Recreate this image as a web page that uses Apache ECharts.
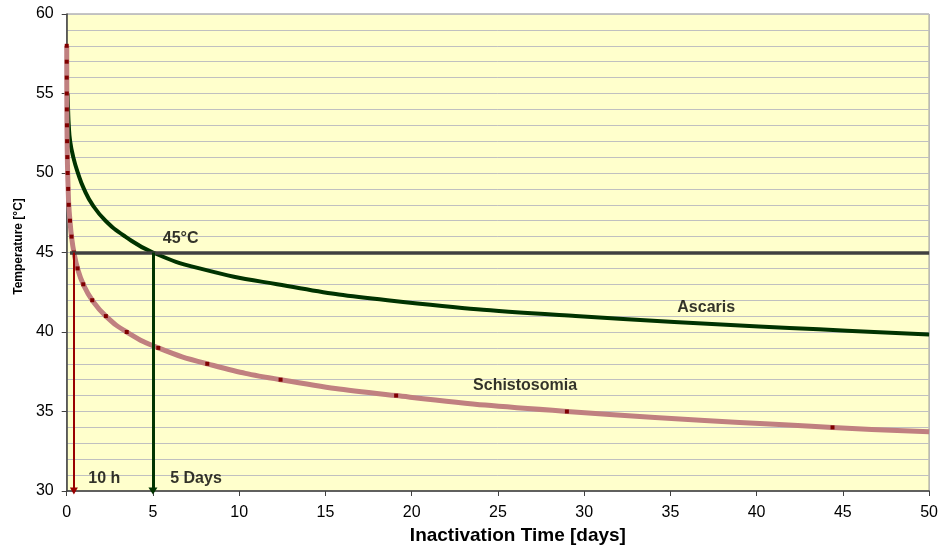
<!DOCTYPE html>
<html>
<head>
<meta charset="utf-8">
<script src="https://cdn.jsdelivr.net/npm/echarts@6/dist/echarts.min.js"></script>
<style>
  html, body { margin: 0; padding: 0; background: #ffffff; }
  #chart { width: 941px; height: 550px; }
</style>
</head>
<body>
<div id="chart"></div>
<script>
// Inactivation time (days) needed at each temperature (°C)
const schistoTemps = [58, 57, 56, 55, 54, 53, 52, 51, 50, 49, 48, 47, 46, 45, 44, 43, 42, 41, 40, 39, 38, 37, 36, 35, 34];
const schistoDays  = [0.002, 0.003, 0.004, 0.007, 0.01, 0.015, 0.024, 0.037, 0.056, 0.085, 0.12, 0.19, 0.28, 0.42, 0.63, 0.96, 1.48, 2.27, 3.48, 5.31, 8.15, 12.4, 19.1, 29.0, 44.4];
const schistoEnd   = [50, 33.72];

const ascarisTemps = [55, 54, 53, 52, 51, 50, 49, 48, 47, 46, 45, 44, 43, 42, 41, 40];
const ascarisDays  = [0.05, 0.08, 0.12, 0.2, 0.38, 0.65, 1.0, 1.5, 2.25, 3.4, 5.0, 7.7, 12.2, 18.6, 29.5, 46.8];
const ascarisEnd   = [50, 39.85];

const refTemp = 45;
const schistoTimeAtRef = 10 / 24;   // 10 hours
const ascarisTimeAtRef = 5;         // 5 days

// Axis ranges
const xMin = 0, xMax = 50, xStep = 5;
const yMin = 30, yMax = 60, yStep = 5;

// Annotation texts and their anchor points [days, °C]
const notes = [
  { text: '45°C',         at: [5.57, 45.85] },
  { text: '10 h',         at: [1.25, 30.78] },
  { text: '5 Days',       at: [6.0, 30.78] },
  { text: 'Ascaris',      at: [35.4, 41.51] },
  { text: 'Schistosomia', at: [23.56, 36.66] }
];

const FONT = "'Liberation Sans', Arial, Helvetica, sans-serif";

const schistoLine = schistoTemps.map((t, i) => ({ value: [schistoDays[i], t] }));
schistoLine.push({ value: schistoEnd, symbol: 'none' });

const ascarisLine = ascarisTemps.map((t, i) => [ascarisDays[i], t]);
ascarisLine.push(ascarisEnd);

const chart = echarts.init(document.getElementById('chart'), null, { renderer: 'canvas' });

chart.setOption({
  animation: false,
  backgroundColor: '#ffffff',
  grid: {
    left: 66.7, right: 7.7, top: 14, bottom: 57.7,
    show: true,
    backgroundColor: '#FFFFCC',
    borderColor: '#8c8c8c',
    borderWidth: 1
  },
  xAxis: {
    type: 'value',
    min: xMin, max: xMax, interval: xStep,
    name: 'Inactivation Time [days]',
    nameLocation: 'middle',
    nameGap: 35,
    nameTextStyle: { fontFamily: FONT, fontWeight: 'bold', fontSize: 19, color: '#000', padding: [0, 0, 0, 40] },
    axisLine: { show: true, onZero: false, lineStyle: { color: '#404040', width: 1.5 } },
    axisTick: { show: true, inside: false, length: 5, lineStyle: { color: '#404040', width: 1 } },
    axisLabel: { fontFamily: FONT, fontSize: 16, color: '#000', margin: 14 },
    splitLine: { show: false }
  },
  yAxis: {
    type: 'value',
    min: yMin, max: yMax, interval: yStep,
    name: 'Temperature [°C]',
    nameLocation: 'middle',
    nameGap: 42,
    nameTextStyle: { fontFamily: FONT, fontWeight: 'bold', fontSize: 12, color: '#000', padding: [0, 0, 0, 12] },
    axisLine: { show: true, lineStyle: { color: '#404040', width: 1.5 } },
    axisTick: { show: true, inside: false, length: 5, lineStyle: { color: '#404040', width: 1 } },
    axisLabel: { fontFamily: FONT, fontSize: 16, color: '#000', margin: 13 },
    splitLine: { show: true, lineStyle: { color: '#c0c0c0', width: 1 } },
    minorTick: { show: false, splitNumber: 5 },
    minorSplitLine: { show: true, lineStyle: { color: '#c0c0c0', width: 1 } }
  },
  series: [
    {
      name: 'Ascaris',
      type: 'line',
      data: ascarisLine,
      smooth: 0.5,
      showSymbol: false,
      symbol: 'none',
      lineStyle: { color: '#003300', width: 4 },
      z: 3
    },
    {
      name: 'Schistosomia',
      type: 'line',
      data: schistoLine,
      smooth: 0.5,
      showSymbol: true,
      symbol: 'rect',
      symbolSize: 4,
      itemStyle: { color: '#800000', borderWidth: 0 },
      lineStyle: { color: '#c08080', width: 5 },
      z: 4
    },
    {
      name: 'markers',
      type: 'line',
      data: [],
      silent: true,
      z: 6,
      markLine: {
        silent: true,
        animation: false,
        label: { show: false },
        emphasis: { disabled: true },
        data: [
          [
            { coord: [0.19, refTemp], symbol: 'none', lineStyle: { color: '#404040', width: 3.5, type: 'solid' } },
            { coord: [xMax, refTemp], symbol: 'none' }
          ],
          [
            { coord: [schistoTimeAtRef, refTemp], symbol: 'none', lineStyle: { color: '#990000', width: 2, type: 'solid' } },
            { coord: [schistoTimeAtRef, yMin], symbol: 'triangle', symbolSize: [8, 7] }
          ],
          [
            { coord: [ascarisTimeAtRef, refTemp], symbol: 'none', lineStyle: { color: '#003300', width: 3, type: 'solid' } },
            { coord: [ascarisTimeAtRef, yMin], symbol: 'triangle', symbolSize: [9, 7] }
          ]
        ]
      }
    },
    {
      name: 'notes',
      type: 'scatter',
      silent: true,
      symbolSize: 0,
      z: 7,
      data: notes.map(n => ({ value: n.at, name: n.text })),
      label: {
        show: true,
        position: 'right',
        distance: 0,
        formatter: p => p.name,
        fontFamily: FONT,
        fontWeight: 'bold',
        fontSize: 16,
        color: '#000'
      }
    }
  ]
});
</script>
</body>
</html>
